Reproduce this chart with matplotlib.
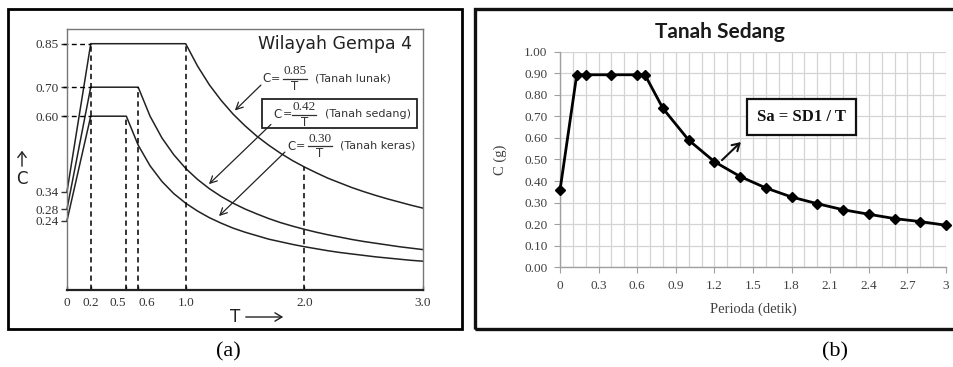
import matplotlib
matplotlib.use("Agg")
import matplotlib.pyplot as plt
from matplotlib.patches import Rectangle, FancyArrowPatch
from matplotlib.lines import Line2D
from matplotlib.ticker import MultipleLocator, FixedLocator

# ---------------- data: panel (a) ----------------
t_lunak = [0, 0.2, 1.0, 1.1, 1.2, 1.3, 1.4, 1.5, 1.6, 1.7, 1.8, 1.9, 2.0,
           2.1, 2.2, 2.3, 2.4, 2.5, 2.6, 2.7, 2.8, 2.9, 3.0]
c_lunak = [0.34, 0.85, 0.85, 0.773, 0.708, 0.654, 0.607, 0.567, 0.531, 0.500,
           0.472, 0.447, 0.425, 0.405, 0.386, 0.370, 0.354, 0.340, 0.327,
           0.315, 0.304, 0.293, 0.283]
t_sedang = [0, 0.2, 0.6, 0.7, 0.8, 0.9, 1.0, 1.1, 1.2, 1.3, 1.4, 1.5, 1.6,
            1.7, 1.8, 1.9, 2.0, 2.1, 2.2, 2.3, 2.4, 2.5, 2.6, 2.7, 2.8, 2.9, 3.0]
c_sedang = [0.28, 0.70, 0.70, 0.600, 0.525, 0.467, 0.420, 0.382, 0.350, 0.323,
            0.300, 0.280, 0.263, 0.247, 0.233, 0.221, 0.210, 0.200, 0.191,
            0.183, 0.175, 0.168, 0.162, 0.156, 0.150, 0.145, 0.140]
t_keras = [0, 0.2, 0.5, 0.6, 0.7, 0.8, 0.9, 1.0, 1.1, 1.2, 1.3, 1.4, 1.5, 1.6,
           1.7, 1.8, 1.9, 2.0, 2.1, 2.2, 2.3, 2.4, 2.5, 2.6, 2.7, 2.8, 2.9, 3.0]
c_keras = [0.24, 0.60, 0.60, 0.500, 0.429, 0.375, 0.333, 0.300, 0.273, 0.250,
           0.231, 0.214, 0.200, 0.188, 0.176, 0.167, 0.158, 0.150, 0.143,
           0.136, 0.130, 0.125, 0.120, 0.115, 0.111, 0.107, 0.103, 0.100]
a_xticks = [0, 0.2, 0.5, 0.6, 1.0, 2.0, 3.0]
a_xticklabels = ["0", "0.2", "0.5", "0.6", "1.0", "2.0", "3.0"]
a_yticks = [0.85, 0.70, 0.60, 0.34, 0.28, 0.24]
a_yticklabels = ["0.85", "0.70", "0.60", "0.34", "0.28", "0.24"]
v_guides = [(0.2, 0.85), (0.5, 0.60), (0.6, 0.70), (1.0, 0.85), (2.0, 0.425)]
h_guides = [0.85, 0.70, 0.60]
formula_nums = ["0.85", "0.42", "0.30"]
formula_names = ["(Tanah lunak)", "(Tanah sedang)", "(Tanah keras)"]

# ---------------- data: panel (b) ----------------
periode = [0, 0.13, 0.2, 0.4, 0.6, 0.66, 0.8, 1.0, 1.2, 1.4, 1.6, 1.8, 2.0,
           2.2, 2.4, 2.6, 2.8, 3.0]
c_g = [0.357, 0.893, 0.893, 0.893, 0.893, 0.893, 0.737, 0.590, 0.490, 0.421,
       0.368, 0.326, 0.295, 0.267, 0.246, 0.226, 0.212, 0.195]
b_xticks = [0, 0.3, 0.6, 0.9, 1.2, 1.5, 1.8, 2.1, 2.4, 2.7, 3.0]
b_xticklabels = ["0", "0.3", "0.6", "0.9", "1.2", "1.5", "1.8", "2.1", "2.4", "2.7", "3"]

W, H = 954, 367
fig = plt.figure(figsize=(W / 100, H / 100), dpi=100)
fig.patch.set_facecolor("white")


def fx(px):
    return px / W


def fy(py):
    return 1 - py / H


SERIF = ["Liberation Serif", "DejaVu Serif"]
SANS = ["DejaVu Sans"]

# ---------------- outer frames ----------------
fig.patches.append(Rectangle((fx(8), fy(329)), fx(462.5) - fx(8), fy(9) - fy(329),
                             transform=fig.transFigure, fill=False, lw=2.0,
                             edgecolor="black"))
fig.patches.append(Rectangle((fx(475), fy(329)), fx(960) - fx(475), fy(9) - fy(329),
                             transform=fig.transFigure, fill=False, lw=2.4,
                             edgecolor="#111111"))

# ---------------- panel (a) ----------------
axa = fig.add_axes([fx(67), fy(290.2), fx(423) - fx(67), fy(29) - fy(290.2)])
axa.set_xlim(0, 3.0)
axa.set_ylim(0, 0.9007)
lc = "#222222"
for t, c in [(t_lunak, c_lunak), (t_sedang, c_sedang), (t_keras, c_keras)]:
    axa.plot(t, c, color=lc, lw=1.1, clip_on=False)
for x, top in v_guides:
    axa.plot([x, x], [0, top], color="black", lw=1.1, ls=(0, (3.5, 2.5)))
for y in h_guides:
    axa.plot([-0.03, 0.2], [y, y], color="black", lw=1.0, ls=(0, (3.5, 2.5)),
             clip_on=False)
for s in axa.spines.values():
    s.set_color("#777777")
    s.set_linewidth(1.0)
axa.spines["bottom"].set_color("#222222")
axa.spines["bottom"].set_linewidth(1.6)
axa.set_xticks(a_xticks)
axa.set_xticklabels(a_xticklabels, fontfamily=SERIF, fontsize=9.5, color="#333333")
axa.set_yticks(a_yticks)
axa.set_yticklabels(a_yticklabels, fontfamily=SERIF, fontsize=9.5, color="#333333")
axa.tick_params(axis="y", direction="out", length=4, width=1, color="#333333", pad=2)
axa.tick_params(axis="x", direction="in", length=3, width=1, color="#333333", pad=5)
xtl = axa.get_xticklabels()
xtl[2].set_ha("right")
xtl[3].set_ha("left")

axa.text(2.91, 0.85, "Wilayah Gempa 4", ha="right", va="center", fontsize=12.5,
         family=SANS, color="#222222")


def formula(xc, bar_c, bar_w, yc, num, name, xname):
    """Draw 'C = num/T (name)' in figure pixel coordinates."""
    col = "#333333"
    fig.text(fx(xc), fy(yc), "C", ha="left", va="center", fontsize=8.5,
             family=SANS, color=col)
    fig.text(fx(xc + 14), fy(yc), "=", ha="center", va="center", fontsize=8,
             family=SANS, color=col)
    fig.text(fx(bar_c), fy(yc - 7.5), num, ha="center", va="center", fontsize=9.5,
             family=SERIF, color=col)
    fig.text(fx(bar_c), fy(yc + 7.5), "T", ha="center", va="center", fontsize=8.5,
             family=SANS, color=col)
    fig.lines.append(Line2D([fx(bar_c - bar_w / 2), fx(bar_c + bar_w / 2)],
                            [fy(yc), fy(yc)], transform=fig.transFigure,
                            color=col, lw=0.9))
    fig.text(fx(xname), fy(yc - 0.5), name, ha="left", va="center", fontsize=8,
             family=SANS, color=col)


formula(262, 295, 24, 79, formula_nums[0], formula_names[0], 315)
formula(273, 304.5, 24, 114.5, formula_nums[1], formula_names[1], 325)
formula(287, 320, 24, 146, formula_nums[2], formula_names[2], 340)

axa.add_patch(Rectangle((1.643, 0.559), 2.949 - 1.643, 0.659 - 0.559, fill=False,
                        lw=1.3, edgecolor="#222222"))
arr_kw = dict(arrowstyle="->,head_length=0.5,head_width=0.25", lw=0.9, color="#222222")
axa.annotate("", xy=(1.398, 0.613), xytext=(1.651, 0.714), arrowprops=arr_kw)
axa.annotate("", xy=(1.179, 0.359), xytext=(1.735, 0.578), arrowprops=arr_kw)
axa.annotate("", xy=(1.264, 0.249), xytext=(1.853, 0.483), arrowprops=arr_kw)

# axis labels with arrows
fig.text(fx(235), fy(317), "T", ha="center", va="center", fontsize=12,
         family=SANS, color="#222222")
fig.patches.append(FancyArrowPatch((fx(243), fy(317)), (fx(286), fy(317)),
                                   transform=fig.transFigure,
                                   arrowstyle="->,head_length=5,head_width=3",
                                   lw=1.0, color="#222222"))
fig.text(fx(22), fy(179), "C", ha="center", va="center", fontsize=12,
         family=SANS, color="#222222")
fig.patches.append(FancyArrowPatch((fx(22), fy(169)), (fx(22), fy(148)),
                                   transform=fig.transFigure,
                                   arrowstyle="->,head_length=4,head_width=3",
                                   lw=1.0, color="#222222"))
fig.text(fx(228), fy(352), "(a)", ha="center", va="center", fontsize=16,
         family=SERIF, color="black")

# ---------------- panel (b) ----------------
axb = fig.add_axes([fx(560), fy(267.3), fx(946) - fx(560), fy(51.7) - fy(267.3)])
axb.set_xlim(0, 3.0)
axb.set_ylim(0, 1.0)
axb.xaxis.set_major_locator(FixedLocator(b_xticks))
axb.xaxis.set_minor_locator(MultipleLocator(0.1))
axb.yaxis.set_major_locator(MultipleLocator(0.1))
axb.grid(True, which="both", axis="x", color="#d4d4d4", lw=0.9)
axb.grid(True, which="major", axis="y", color="#d4d4d4", lw=0.9)
axb.set_axisbelow(True)
axb.plot(periode, c_g, color="black", lw=2.0, marker="D", markersize=5,
         clip_on=False, zorder=5)
for s in ["top", "right"]:
    axb.spines[s].set_visible(False)
for s in ["left", "bottom"]:
    axb.spines[s].set_color("#a0a0a0")
    axb.spines[s].set_linewidth(1.0)
axb.set_xticklabels(b_xticklabels, fontfamily=SERIF, fontsize=9.5, color="#404040")
axb.set_yticklabels([f"{v:.2f}" for v in axb.get_yticks()], fontfamily=SERIF,
                    fontsize=9.5, color="#404040")
axb.tick_params(which="major", direction="out", length=4, color="#a0a0a0", pad=5)
axb.tick_params(which="minor", length=0)
axb.set_xlabel("Perioda (detik)", fontfamily=SERIF, fontsize=10.5, color="#404040",
               labelpad=8)
axb.set_ylabel("C (g)", fontfamily=SERIF, fontsize=10.5, color="#404040", labelpad=12)

fig.text(fx(720), fy(32), "Tanah Sedang", ha="center", va="center", fontsize=15,
         family="Lato", weight="bold", color="#1a1a1a")
axb.text(1.88, 0.695, "Sa = SD1 / T", ha="center", va="center", fontsize=12,
         family=SERIF, weight="bold", color="#111111",
         bbox=dict(boxstyle="square,pad=0.6", fc="white", ec="#111111", lw=1.6),
         zorder=6)
axb.annotate("", xy=(1.422, 0.59), xytext=(1.243, 0.488),
             arrowprops=dict(arrowstyle="->,head_length=0.5,head_width=0.3", lw=1.5,
                             color="#111111"), zorder=6)

fig.text(fx(835), fy(352), "(b)", ha="center", va="center", fontsize=16,
         family=SERIF, color="black")

fig.savefig("out.png", dpi=100, facecolor="white")
